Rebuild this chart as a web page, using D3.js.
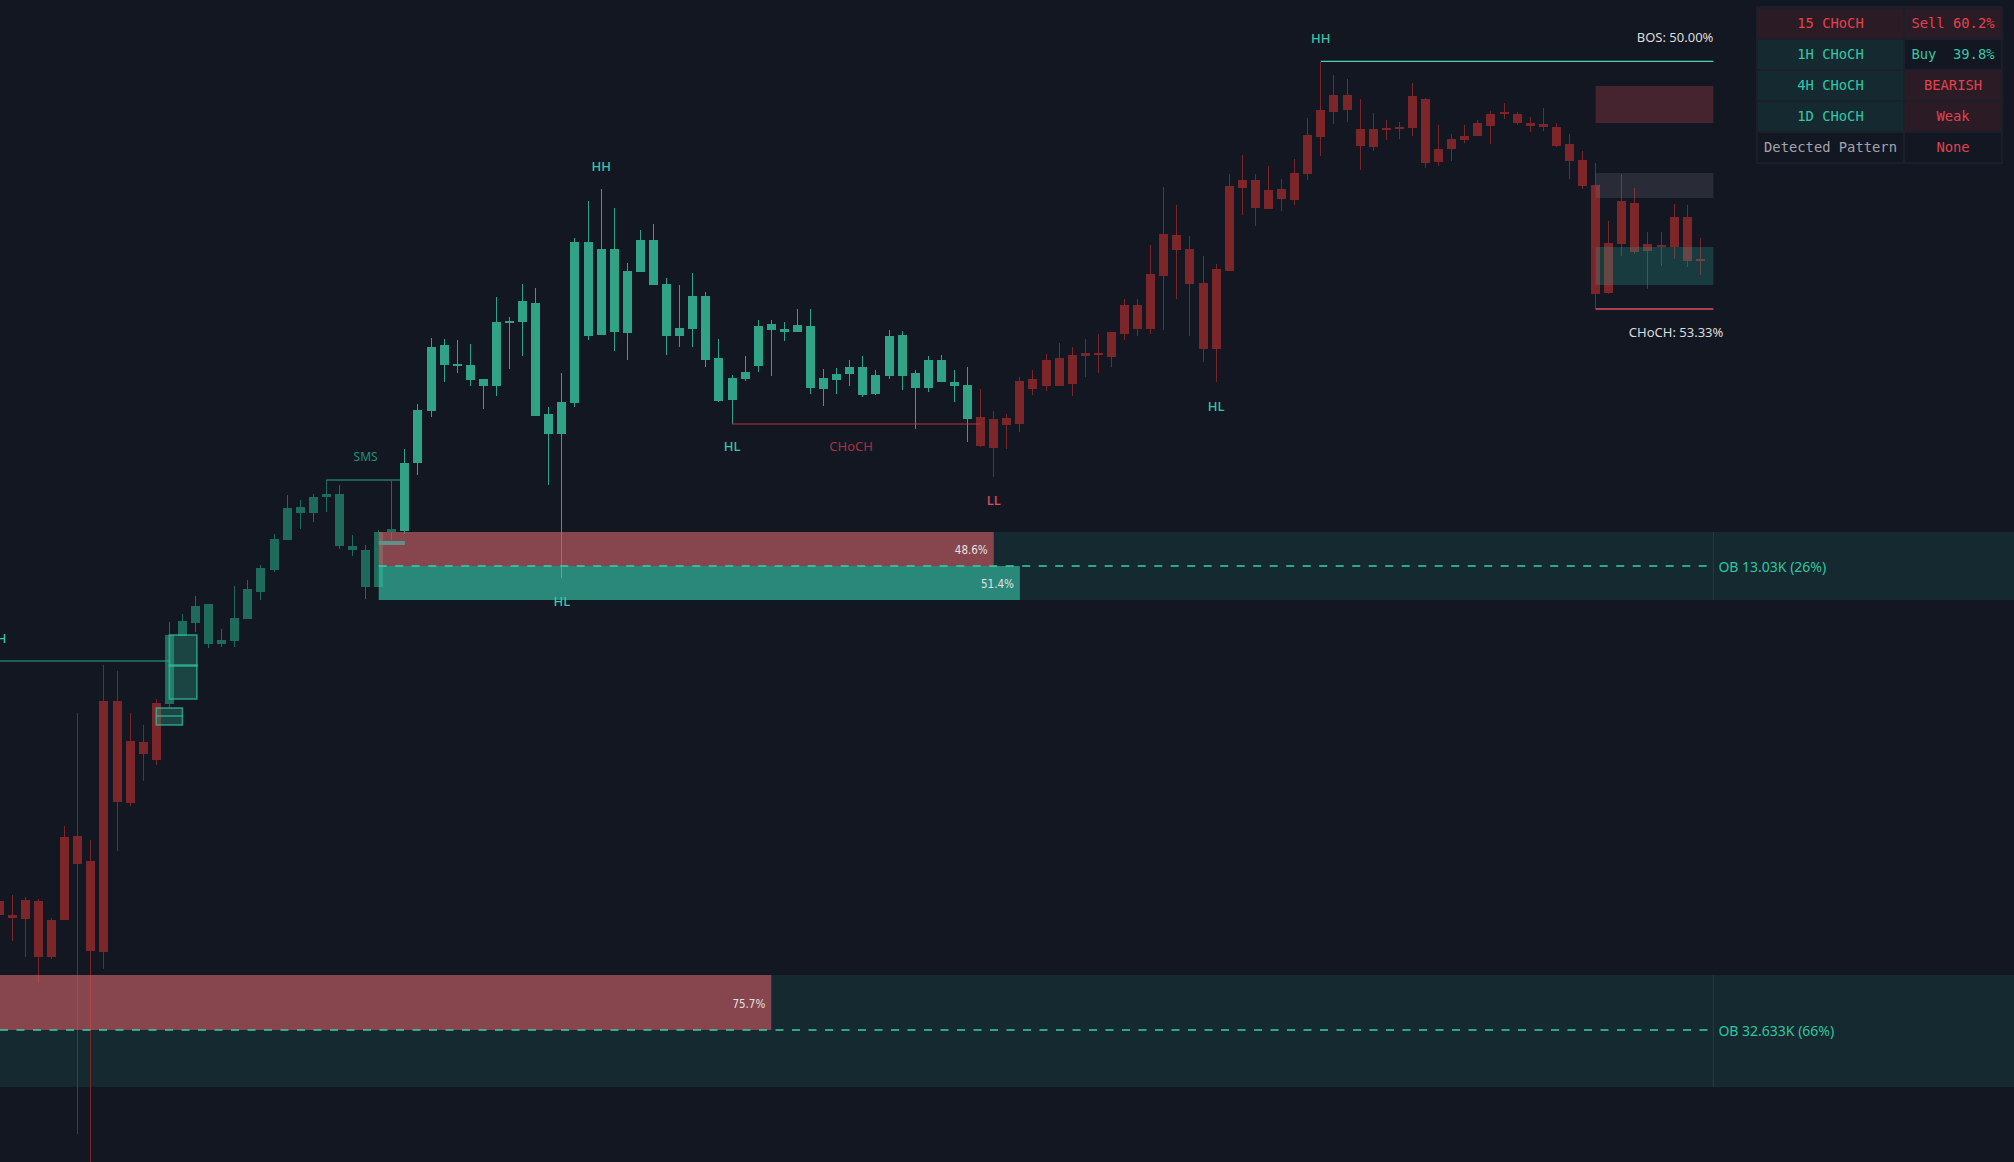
<!DOCTYPE html>
<html><head><meta charset="utf-8">
<script src="https://cdn.jsdelivr.net/npm/d3@7"></script>
<style>html,body{margin:0;padding:0;background:#131722;overflow:hidden}svg{display:block}</style>
</head><body>
<svg id="c" width="2014" height="1162"></svg>
<script>
// ---------- DATA (one candle per bar index 0..130) ----------
const open=[299,282,300,299,243,280,364,249,248,499, 397,446,440,496,564,594,596,556,559,581, 608,630,660,687,687,706,706,654,650,613, 668,669,737,789,855,836,835,814,814,877, 878,897,786,766,797,958,865,951,867,928, 960,916,864,871,904,842,800,821,834,876, 868,868,874,811,820,826,833,806,824,865, 827,812,840,818,815,783,752,775,776,811, 814,814,816,844,845,843,866,871,871,924, 965,951,917,851,929,1012,1020,991,1011,1000, 1026,1063,1088,1105,1071,1053,1071,1072,1072,1101, 1038,1051,1060,1064,1074,1087,1086,1077,1076,1073, 1056,1040,1015,907,956,997,949,955,953,983, 941];
const high=[299,305,303,301,282,374,487,360,535,529, 487,475,501,578,586,604,596,571,614,620, 635,666,705,700,706,720,715,665,655,670, 719,751,796,862,861,860,856,821,903,883, 916,912,793,827,962,999,1011,992,937,970, 976,922,915,927,908,861,825,844,880,880, 878,891,891,831,832,840,844,830,870,869, 830,844,845,830,833,811,789,786,823,830, 846,857,853,861,866,868,901,901,955,1013, 995,964,944,936,1026,1045,1026,1034,1021,1041, 1082,1138,1125,1121,1101,1087,1080,1078,1117,1102, 1075,1066,1075,1080,1089,1097,1088,1083,1092,1077, 1066,1049,1037,979,1026,1012,968,968,996,995, 962];
const low=[285,259,243,217,241,280,66,30,231,349, 394,419,435,492,564,568,552,553,553,581, 600,628,660,671,678,688,651,644,601,613, 660,666,725,783,818,827,814,791,804,831, 844,784,715,622,793,860,865,849,840,928, 915,845,853,853,833,798,776,819,828,824, 859,868,806,794,806,814,803,805,821,810, 771,808,818,798,758,753,723,751,768,805, 809,814,804,823,827,833,860,864,866,870, 901,864,838,818,929,985,974,991,989,995, 1020,1044,1076,1078,1030,1049,1060,1061,1064,1032, 1034,1039,1057,1064,1056,1081,1075,1068,1069,1053, 1021,1011,891,906,944,946,911,934,941,933, 925];
const close=[285,285,281,243,280,363,336,339,499,398, 459,458,497,565,579,577,556,560,582,611, 632,661,692,693,703,703,654,650,613,668, 671,737,790,853,835,835,820,821,878,879, 899,784,766,798,958,864,951,868,929,960, 915,864,872,904,840,799,822,828,874,870, 871,875,812,822,826,833,805,825,864,824, 812,840,818,814,781,754,781,782,819,821, 840,842,845,847,847,868,895,895,926,966, 950,916,851,931,1014,1020,992,1010,1001,1027, 1065,1090,1105,1090,1054,1071,1072,1073,1104,1037, 1051,1061,1064,1077,1086,1088,1077,1074,1073,1054, 1039,1014,906,957,999,948,956,954,983,939, 939];

// trend regime (candle colouring) starts at these bar indices
const regimeStart=[0,13,31,75];
const regimeName=['bear','accum','bull','bear'];

// order-block zones (bar index range, price levels)
const obBands=[{i0:29,top:668,bot:600},{i0:-5,top:225,bot:113}];
const obFills=[
  {i0:29,i1:76,top:668,bot:634,kind:'sell',pct:'48.6%'},
  {i0:29,i1:78,top:634,bot:600,kind:'buy',pct:'51.4%'},
  {i0:-5,i1:59,top:225,bot:170,kind:'sell',pct:'75.7%'}];
const obMid=[{i0:29,p:634,label:'OB 13.03K (26%)'},{i0:-5,p:170,label:'OB 32.633K (66%)'}];
const obEnd=131;

// structure lines
const structLines=[
  {i0:-5,i1:13,p:539,kind:'bull'},
  {i0:25,i1:30.65,p:720,kind:'bull'},
  {i0:56,i1:75,p:776,kind:'bearDim'},
  {i0:101,i1:131,p:1138.7,kind:'bos'},
  {i0:122,i1:131,p:891,kind:'bearBright'}];

// projection boxes at right
const projBoxes=[
  {i0:122,i1:131,top:1114,bot:1077,kind:'red'},
  {i0:122,i1:131,top:1027,bot:1002,kind:'gray'},
  {i0:122,i1:131,top:953,bot:915,kind:'teal'}];

// small FVG boxes
const fvgBoxes=[{i0:13,i1:15.1,top:565,bot:534},{i0:13,i1:15.1,top:535,bot:501},{i0:12,i1:14,top:492,bot:475}];
const fvgMid=[{i0:12,i1:14,p:484}];
const greyBars=[{i0:29,i1:31,top:659,bot:655}];

// structure labels
const labels=[
  {t:'HH',i:0.55,p:562,kind:'bull',anchor:'end'},
  {t:'SMS',i:28,p:744,kind:'sms',anchor:'middle'},
  {t:'HH',i:46,p:1034,kind:'bull',anchor:'middle'},
  {t:'HL',i:43,p:599,kind:'bull',anchor:'middle'},
  {t:'HL',i:56,p:754,kind:'bull',anchor:'middle'},
  {t:'CHoCH',i:65.1,p:754,kind:'bearDim',anchor:'middle'},
  {t:'LL',i:76,p:700,kind:'bear',anchor:'middle'},
  {t:'HL',i:93,p:794,kind:'bull',anchor:'middle'},
  {t:'HH',i:101,p:1162,kind:'bull',anchor:'middle'}];
const infoLabels=[
  {t:'BOS: 50.00%',i:131,p:1163},
  {t:'CHoCH: 53.33%',i:131.76,p:868}];

// table
const tableRows=[['15 CHoCH','Sell 60.2%'],['1H CHoCH','Buy  39.8%'],['4H CHoCH','BEARISH'],['1D CHoCH','Weak'],['Detected Pattern','None']];
const tableBg=[['red','red'],['teal','dark'],['teal','red'],['teal','red'],['dark','dark']];
const tableFg=[['red','red'],['teal','teal'],['teal','red'],['teal','red'],['gray','red']];

// ---------- DRAW ----------
const W=2014,H=1162;
const svg=d3.select('#c');
svg.append('rect').attr('width',W).attr('height',H).attr('fill','#131722');
const x=d3.scaleLinear().domain([0,130]).range([-0.75,1700.3]);
const y=d3.scaleLinear().domain([0,1200]).range([1200,0]);
const BW=9;
const candleCol={bear:'#7c2629',accum:'#1e6b5b',bull:'#30a387'};
const lineCol={bull:'#2aa88a',bearDim:'#b8323d',bos:'#4fd0b2',bearBright:'#e0505b'};
const labelCol={bull:'#3cc6a6',sms:'#23917a',bearDim:'#a8323c',bear:'#e44d58'};
function regimeOf(i){let r=regimeName[0];regimeStart.forEach((s,k)=>{if(i>=s)r=regimeName[k];});return r;}
const candles=open.map((o,i)=>({i,o,h:high[i],l:low[i],c:close[i],r:regimeOf(i)}));

// bands (under candles)
svg.append('g').selectAll('rect').data(obBands).join('rect')
  .attr('x',d=>Math.max(0,x(d.i0))).attr('y',d=>y(d.top))
  .attr('width',d=>W-Math.max(0,x(d.i0))).attr('height',d=>y(d.bot)-y(d.top))
  .attr('fill','#152a30');
svg.append('g').selectAll('line').data(obBands).join('line')
  .attr('x1',x(obEnd)).attr('x2',x(obEnd)).attr('y1',d=>y(d.top)).attr('y2',d=>y(d.bot))
  .attr('stroke','#21403f').attr('stroke-width',1);

// candles
const gc=svg.append('g').attr('shape-rendering','crispEdges');
gc.selectAll('.w').data(candles).join('rect').attr('class','w')
  .attr('x',d=>Math.floor(x(d.i))).attr('width',1)
  .attr('y',d=>y(d.h)).attr('height',d=>Math.max(1,y(d.l)-y(d.h)))
  .attr('fill',d=>candleCol[d.r]);
gc.selectAll('.b').data(candles).join('rect').attr('class','b')
  .attr('x',d=>Math.round(x(d.i)-BW/2)).attr('width',BW)
  .attr('y',d=>y(Math.max(d.o,d.c))).attr('height',d=>Math.max(1.5,Math.abs(y(d.o)-y(d.c))))
  .attr('fill',d=>candleCol[d.r]);

// OB fills (semi-transparent overlays)
svg.append('g').selectAll('rect').data(obFills).join('rect')
  .attr('x',d=>Math.max(0,x(d.i0))).attr('y',d=>y(d.top))
  .attr('width',d=>x(d.i1)-Math.max(0,x(d.i0))).attr('height',d=>y(d.bot)-y(d.top))
  .attr('fill',d=>d.kind==='sell'?'rgb(212,90,96)':'rgb(57,200,171)').attr('fill-opacity',0.6);
svg.append('g').selectAll('text').data(obFills).join('text')
  .attr('x',d=>x(d.i1)-6).attr('y',d=>(y(d.top)+y(d.bot))/2+1)
  .attr('text-anchor','end').attr('dominant-baseline','central')
  .style('font-family','"DejaVu Sans Condensed","DejaVu Sans",sans-serif').style('font-stretch','condensed')
  .style('font-size','11.5px').attr('fill','#e6e0e0').text(d=>d.pct);
svg.append('g').selectAll('line').data(obMid).join('line')
  .attr('x1',d=>Math.max(0,x(d.i0))).attr('x2',x(obEnd)).attr('y1',d=>y(d.p)).attr('y2',d=>y(d.p))
  .attr('stroke','#38cfab').attr('stroke-width',1.3).attr('stroke-dasharray','8,8.5');
svg.append('g').selectAll('text').data(obMid).join('text')
  .attr('x',x(obEnd)+5).attr('y',d=>y(d.p)).attr('dominant-baseline','central')
  .style('font-family','"Noto Sans",sans-serif').style('font-size','14px').attr('fill','#33c4a2').text(d=>d.label);

// fvg boxes
svg.append('g').selectAll('rect').data(fvgBoxes).join('rect')
  .attr('x',d=>x(d.i0)).attr('y',d=>y(d.top)).attr('width',d=>x(d.i1)-x(d.i0)).attr('height',d=>y(d.bot)-y(d.top))
  .attr('fill','rgba(45,175,145,0.3)').attr('stroke','rgba(50,185,155,0.75)').attr('stroke-width',1.6);
svg.append('g').selectAll('line').data(fvgMid).join('line')
  .attr('x1',d=>x(d.i0)).attr('x2',d=>x(d.i1)).attr('y1',d=>y(d.p)).attr('y2',d=>y(d.p))
  .attr('stroke','rgba(50,185,155,0.75)').attr('stroke-width',1.6);
svg.append('g').selectAll('rect').data(greyBars).join('rect')
  .attr('x',d=>x(d.i0)).attr('y',d=>y(d.top)).attr('width',d=>x(d.i1)-x(d.i0)).attr('height',d=>y(d.bot)-y(d.top))
  .attr('fill','#5e9189');

// projection boxes
const projFill={red:'#45242f',gray:'rgba(130,130,140,0.2)',teal:'rgba(38,166,154,0.25)'};
svg.append('g').selectAll('rect').data(projBoxes).join('rect')
  .attr('x',d=>x(d.i0)).attr('y',d=>y(d.top)).attr('width',d=>x(d.i1)-x(d.i0)).attr('height',d=>y(d.bot)-y(d.top))
  .attr('fill',d=>projFill[d.kind]);

// structure lines
svg.append('g').selectAll('line').data(structLines).join('line')
  .attr('x1',d=>Math.max(0,x(d.i0))).attr('x2',d=>x(d.i1)).attr('y1',d=>y(d.p)).attr('y2',d=>y(d.p))
  .attr('stroke',d=>lineCol[d.kind]).attr('stroke-width',d=>d.kind==='bearBright'?1.5:1.2);

// labels
svg.append('g').selectAll('text').data(labels).join('text')
  .attr('x',d=>x(d.i)).attr('y',d=>y(d.p)).attr('text-anchor',d=>d.anchor).attr('dominant-baseline','central')
  .style('font-family','"Noto Sans",sans-serif').style('font-size',d=>d.t==='SMS'?'12px':'13px')
  .style('font-weight',d=>d.kind==='sms'||d.kind==='bearDim'?400:500)
  .attr('fill',d=>labelCol[d.kind]).text(d=>d.t);
svg.append('g').selectAll('text').data(infoLabels).join('text')
  .attr('x',d=>x(d.i)).attr('y',d=>y(d.p)).attr('text-anchor','end').attr('dominant-baseline','central')
  .style('font-family','"Noto Sans",sans-serif').style('font-size','13px').attr('fill','#dcdcdc').text(d=>d.t);

// table
const tb=svg.append('g');
const tx0=1756,ty0=6,tw=247,rowH=31,c1w=145;
tb.append('rect').attr('x',tx0).attr('y',ty0).attr('width',tw).attr('height',158).attr('fill','#1c1f2b');
const bgCol={red:'#2b1b25',teal:'#152a30',dark:'#131722'};
const fgCol={red:'#e0434f',teal:'#35c7a5',gray:'#a3a3ab'};
tableRows.forEach((row,r)=>{
  row.forEach((txt,c)=>{
    const cx=c===0?tx0+2:tx0+2+c1w+2, cw=c===0?c1w:96;
    const cy=ty0+3+r*rowH;
    tb.append('rect').attr('x',cx).attr('y',cy).attr('width',cw).attr('height',rowH-2).attr('fill',bgCol[tableBg[r][c]]);
    tb.append('text').attr('x',cx+cw/2).attr('y',cy+(rowH-2)/2-0.5).attr('text-anchor','middle').attr('dominant-baseline','central')
      .attr('xml:space','preserve').style('white-space','pre')
      .style('font-family','"DejaVu Sans Mono",monospace').style('font-size','13.8px')
      .attr('fill',fgCol[tableFg[r][c]]).text(txt);
  });
});
</script>
</body></html>
